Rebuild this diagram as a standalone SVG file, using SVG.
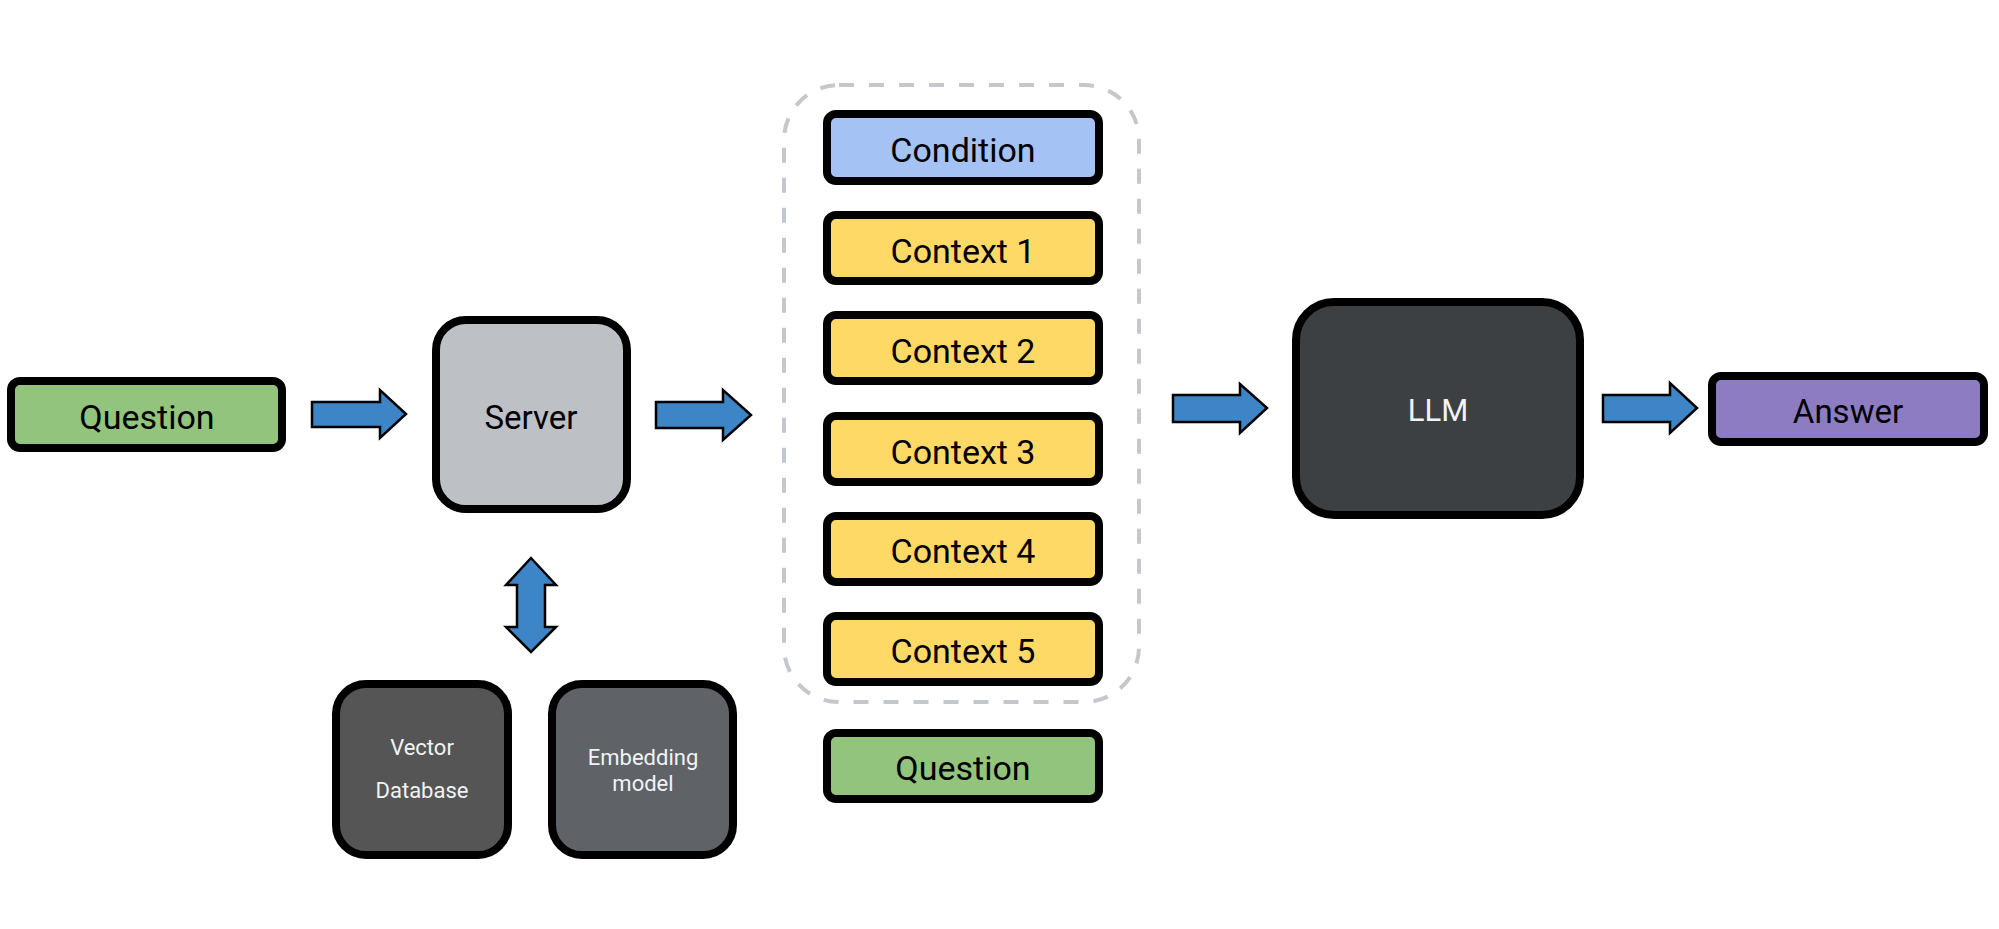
<svg xmlns="http://www.w3.org/2000/svg" width="1999" height="929" viewBox="0 0 1999 929">
<style>
.box{stroke:#000;stroke-width:8}
.arrow{fill:#3d85c6;stroke:#000;stroke-width:2.5;stroke-linejoin:miter}
.t{font-family:Roboto,"Liberation Sans",sans-serif;text-anchor:middle;fill:#000}
.w{fill:#f1f3f4}
</style>
<rect width="1999" height="929" fill="#fff"/>
<g id="container">
<rect x="784" y="85" width="355" height="617" rx="55" fill="none" stroke="#c4c7cc" stroke-width="4" stroke-dasharray="15 15"/>
</g>
<g id="connectors">
<polygon class="arrow" points="312,402 380,402 380,390 406,414 380,438 380,427 312,427"/>
<polygon class="arrow" points="656,402 723,402 723,390 751,415 723,440 723,428 656,428"/>
<polygon class="arrow" points="1173,395 1240,395 1240,384 1267,408 1240,433 1240,422 1173,422"/>
<polygon class="arrow" points="1603,395 1670,395 1670,383 1697,408 1670,433 1670,422 1603,422"/>
<polygon class="arrow" points="531,558 556,585 545,585 545,627 556,627 531,652 506,627 517,627 517,585 506,585"/>
</g>
<g id="question-in">
<rect class="box" x="11" y="381" width="271" height="67" rx="9" fill="#93c47d"/>
<text class="t" x="147" y="429" font-size="34">Question</text>
</g>
<g id="server">
<rect class="box" x="436" y="320" width="191" height="189" rx="30" fill="#bdc1c6"/>
<text class="t" x="531" y="429" font-size="33">Server</text>
</g>
<g id="vector-db">
<rect class="box" x="336" y="684" width="172" height="171" rx="30" fill="#555555"/>
<text class="t w" x="422" y="755" font-size="22">Vector</text>
<text class="t w" x="422" y="798" font-size="22">Database</text>
</g>
<g id="embedding">
<rect class="box" x="552" y="684" width="181" height="171" rx="30" fill="#5f6368"/>
<text class="t w" x="643" y="765" font-size="22">Embedding</text>
<text class="t w" x="643" y="791" font-size="22">model</text>
</g>
<g id="condition">
<rect class="box" x="827" y="114" width="272" height="67" rx="9" fill="#a4c2f4"/>
<text class="t" x="963" y="162" font-size="34">Condition</text>
</g>
<g id="context1">
<rect class="box" x="827" y="215" width="272" height="66" rx="9" fill="#ffd966"/>
<text class="t" x="963" y="263" font-size="34">Context 1</text>
</g>
<g id="context2">
<rect class="box" x="827" y="315" width="272" height="66" rx="9" fill="#ffd966"/>
<text class="t" x="963" y="363" font-size="34">Context 2</text>
</g>
<g id="context3">
<rect class="box" x="827" y="416" width="272" height="66" rx="9" fill="#ffd966"/>
<text class="t" x="963" y="464" font-size="34">Context 3</text>
</g>
<g id="context4">
<rect class="box" x="827" y="516" width="272" height="66" rx="9" fill="#ffd966"/>
<text class="t" x="963" y="563" font-size="34">Context 4</text>
</g>
<g id="context5">
<rect class="box" x="827" y="616" width="272" height="66" rx="9" fill="#ffd966"/>
<text class="t" x="963" y="663" font-size="34">Context 5</text>
</g>
<g id="question-mid">
<rect class="box" x="827" y="733" width="272" height="66" rx="9" fill="#93c47d"/>
<text class="t" x="963" y="780" font-size="34">Question</text>
</g>
<g id="llm">
<rect class="box" x="1296" y="302" width="284" height="213" rx="38" fill="#3c4043"/>
<text class="t w" x="1438" y="421" font-size="31">LLM</text>
</g>
<g id="answer">
<rect class="box" x="1712" y="376" width="272" height="66" rx="9" fill="#8e7cc3"/>
<text class="t" x="1848" y="423" font-size="33">Answer</text>
</g>
</svg>
